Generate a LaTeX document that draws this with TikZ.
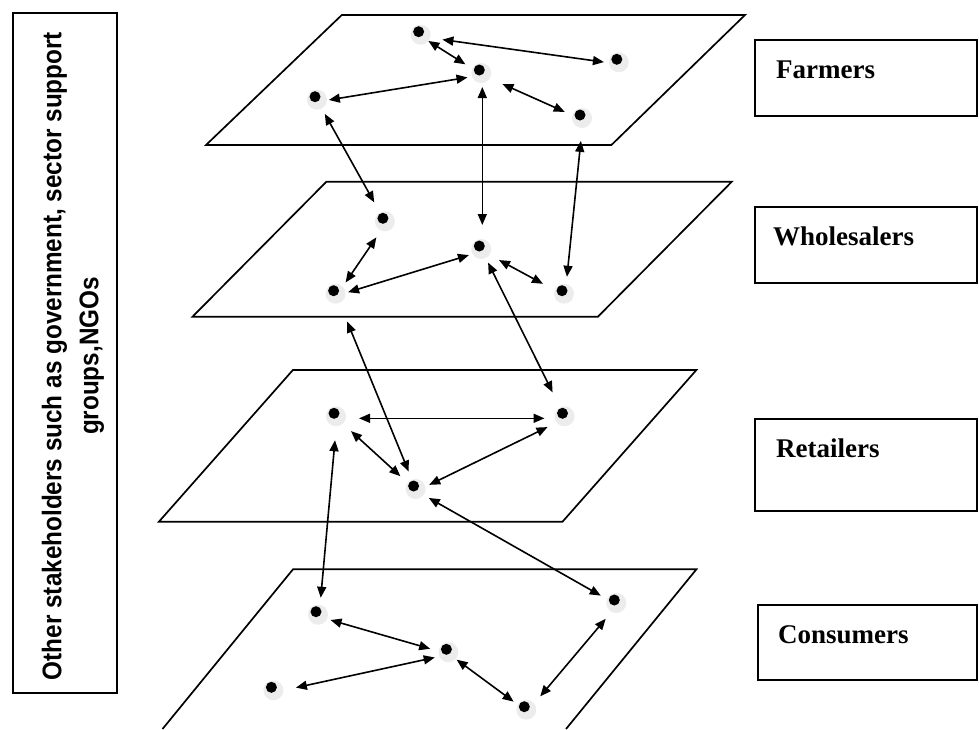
\documentclass[tikz,border=0pt]{standalone}
\usepackage{fontspec}
\setmainfont{Liberation Serif}
\newfontfamily\sidefont[FakeStretch=0.9]{Liberation Sans}
\usetikzlibrary{arrows.meta}
\begin{document}
\begin{tikzpicture}[x=1pt,y=-1pt,
  plane/.style={draw=black, line width=1.7pt, line join=miter},
  hub/.style={shape=coordinate},
  link/.style={line width=1.6pt, {Triangle[length=11pt,width=9pt]}-{Triangle[length=11pt,width=9pt]}},
  gp/.style 2 args={shorten <=#1pt, shorten >=#2pt},
  framebox/.style={draw=black, line width=1.7pt},
  lab/.style={anchor=base west, inner sep=0pt, font=\bfseries\fontsize{27}{30}\selectfont}]
\useasboundingbox (0,0) rectangle (979,729);

% planes
\draw[plane] (206,145) -- (341.8,15) -- (745,15) -- (611.4,145) -- cycle;
\draw[plane] (192.5,316.7) -- (326.4,181.7) -- (731.8,181.7) -- (597.9,316.7) -- cycle;
\draw[plane] (158.9,521.7) -- (292.9,370) -- (696.4,370) -- (562.5,521.7) -- cycle;
\draw[plane] (162.5,729) -- (293,569.3) -- (696.4,569.3) -- (566,729);

% actors (object centres)
\node[hub] (A1) at (421.6,36.7) {};
\node[hub] (A2) at (619.8,64.3) {};
\node[hub] (A3) at (482.3,75) {};
\node[hub] (A4) at (318,101.7) {};
\node[hub] (A5) at (583,120) {};
\node[hub] (B1) at (385.9,223.3) {};
\node[hub] (B2) at (482.3,251) {};
\node[hub] (B3) at (336.6,295.7) {};
\node[hub] (B4) at (565,295.7) {};
\node[hub] (C1) at (337,418.3) {};
\node[hub] (C2) at (565.5,418.3) {};
\node[hub] (C3) at (416.6,491) {};
\node[hub] (D1) at (319,616.7) {};
\node[hub] (D2) at (617.3,605) {};
\node[hub] (D3) at (449.4,654.3) {};
\node[hub] (D4) at (274.4,692.3) {};
\node[hub] (D5) at (527.3,711.7) {};

\foreach \n in {A1,A2,A3,A4,A5,B1,B2,B3,B4,C1,C2,C3,D1,D2,D3,D4,D5}{
  \fill[gray!15] ([shift={(-1,-2)}]\n) circle (10);
  \fill[black] ([shift={(-3,-5)}]\n) circle (5.5);
}

% links
\draw[link, gp={21}{16}] (A1) -- (A2);
\draw[link, gp={8}{20}] (A1) -- (A3);
\draw[link, gp={11}{15}] (A4) -- (A3);
\draw[link, gp={22}{20}] (A3) -- (A5);
\draw[link, gp={14}{24}] (A4) -- (B1);
\draw[link, gp={12}{26}] (A3) -- (B2);
\draw[link, gp={21}{19}] (A5) -- (B4);
\draw[link, gp={17}{16}] (B1) -- (B3);
\draw[link, gp={12}{14}] (B3) -- (B2);
\draw[link, gp={19}{25}] (B2) -- (B4);
\draw[link, gp={28}{21}] (B3) -- (C3);
\draw[link, gp={13}{29}] (B2) -- (C2);
\draw[link, gp={22}{21}] (C1) -- (C2);
\draw[link, gp={19}{22}] (C1) -- (C3);
\draw[link, gp={14}{20}] (C3) -- (C2);
\draw[link, gp={14}{19}] (C3) -- (D2);
\draw[link, gp={22}{19}] (C1) -- (D1);
\draw[link, gp={12}{20}] (D1) -- (D3);
\draw[link, gp={22}{15}] (D4) -- (D3);
\draw[link, gp={9}{17}] (D3) -- (D5);
\draw[link, gp={20}{18}] (D5) -- (D2);

% right label boxes
\draw[framebox] (755,40) rectangle (977,116);
\node[lab] (farm) at (776,78) {Farmers};
\draw[framebox] (755,207) rectangle (977,283);
\node[lab] (whole) at (773,245) {Wholesalers};
\draw[framebox] (755,419) rectangle (977,511);
\node[lab] (retail) at (776,457) {Retailers};
\draw[framebox] (758,605) rectangle (977,680);
\node[lab] (cons) at (778,643) {Consumers};

% left box
\draw[framebox] (13.3,13.3) rectangle (116.7,693);
\node[rotate=90, align=center, inner sep=0pt,
      font=\sidefont\bfseries\fontsize{27}{37}\selectfont] (others) at (73,356)
  {Other stakeholders such as government, sector support\\groups,NGOs};
\end{tikzpicture}
\end{document}
